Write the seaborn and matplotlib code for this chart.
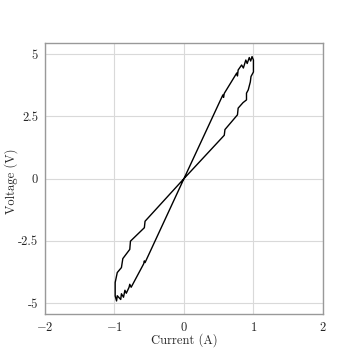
import matplotlib
matplotlib.use("Agg")
import matplotlib.pyplot as plt
import seaborn as sns

# loop: steep rise, stepped return, then the negative half
current = [0, 0.56, 0.57, 0.58, 0.76, 0.77, 0.78, 0.83, 0.855, 0.89, 0.91, 0.94, 0.96, 0.98, 1.0, 1.0,
           1.0, 0.965, 0.955, 0.925, 0.90, 0.90, 0.85, 0.78, 0.77, 0.59, 0.58, 0,
           -0.56, -0.57, -0.77, -0.78, -0.88, -0.90, -0.96, -0.99, -0.99,
           -0.99, -0.97, -0.96, -0.91, -0.90, -0.87, -0.85, -0.83, -0.79, -0.78, -0.76, -0.58, -0.57, -0.56, 0]
voltage = [0, 3.36, 3.26, 3.42, 4.24, 4.12, 4.36, 4.56, 4.44, 4.76, 4.62, 4.86, 4.72, 4.90, 4.76, 4.70,
           4.28, 4.10, 3.88, 3.56, 3.43, 3.16, 3.05, 2.83, 2.56, 1.97, 1.74, 0,
           -1.71, -1.97, -2.51, -2.84, -3.21, -3.57, -3.77, -4.17, -4.30,
           -4.71, -4.91, -4.70, -4.85, -4.62, -4.76, -4.48, -4.60, -4.36, -4.24, -4.36, -3.42, -3.30, -3.37, 0]

xticks = [-2, -1, 0, 1, 2]
yticks = [-5, -2.5, 0, 2.5, 5]
ytick_labels = ["-5", "-2.5", "0", "2.5", "5"]

sns.set_style("whitegrid")
plt.rcParams["font.family"] = "cmr10"
plt.rcParams["mathtext.fontset"] = "cm"
plt.rcParams["axes.formatter.use_mathtext"] = True

fig, ax = plt.subplots(figsize=(3.6, 3.6), dpi=100)
fig.subplots_adjust(left=0.125, right=0.897, bottom=0.128, top=0.881)

sns.lineplot(x=current, y=voltage, sort=False, estimator=None, color="black", linewidth=1.0, ax=ax)

ax.set_xlim(-2, 2)
ax.set_ylim(-5.43, 5.45)
ax.set_xticks(xticks)
ax.set_yticks(yticks)
ax.set_yticklabels(ytick_labels)
ax.tick_params(labelsize=9, length=3, width=0.8, color="#aaaaaa", pad=2, direction="out")
ax.grid(color="#d9d9d9", linewidth=0.8)
for s in ax.spines.values():
    s.set_color("#999999")
    s.set_linewidth(1.0)

ax.set_xlabel("Current (A)", fontsize=9)
ax.set_ylabel("Voltage (V)", fontsize=9)
ax.xaxis.set_label_coords(0.5, -0.072)
ax.yaxis.set_label_coords(-0.097, 0.49)

fig.savefig("out.png", dpi=100)
